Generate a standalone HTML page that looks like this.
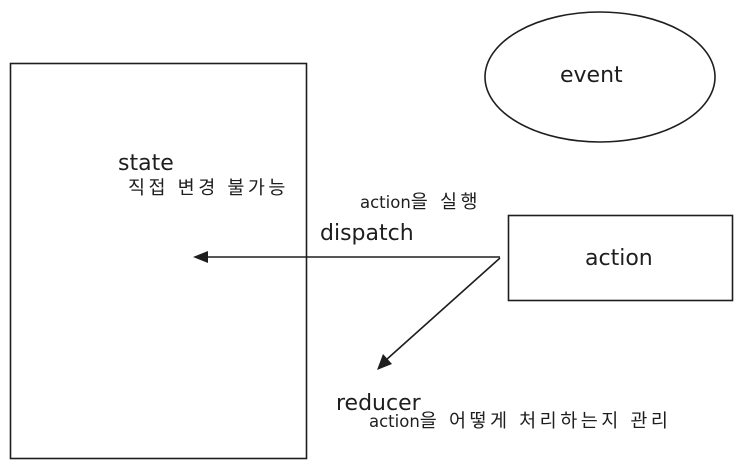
<!DOCTYPE html>
<html><head><meta charset="utf-8"><style>
html,body{margin:0;padding:0;background:#fff;}
svg{display:block}
text{font-family:"Liberation Sans","Noto Sans CJK KR",sans-serif;fill:#1e1e1e}
.h{font-family:"Comic Sans MS","DejaVu Sans","Noto Sans CJK KR",sans-serif}
.k{font-size:18.5px;letter-spacing:3.5px}
</style></head><body>
<svg width="741" height="468" viewBox="0 0 741 468" xmlns="http://www.w3.org/2000/svg">
<g fill="none" stroke="#1e1e1e" stroke-width="1.6">
<rect x="10.5" y="63.5" width="296" height="395"/>
<ellipse cx="600" cy="77" rx="115" ry="65"/>
<rect x="508.5" y="215.5" width="224" height="85"/>
<line x1="500" y1="257" x2="205" y2="257"/>
<line x1="500" y1="258" x2="386" y2="360"/>
</g>
<polygon points="193,257 208,251 208,263" fill="#1e1e1e"/>
<polygon points="377,370 383,354 392,364" fill="#1e1e1e"/>
<text class="h" x="118" y="170" font-size="22">state</text>
<text class="k" x="128" y="194">직접 변경 불가능</text>
<text class="h" x="560" y="82" font-size="22">event</text>
<text class="h" x="585" y="265" font-size="22">action</text>
<text class="h" x="320" y="240" font-size="22">dispatch</text>
<text class="k" x="360" y="208"><tspan class="h" font-size="16.5" letter-spacing="0">action</tspan>을 실행</text>
<text class="h" x="336" y="410" font-size="22">reducer</text>
<text class="k" x="369" y="427"><tspan class="h" font-size="16.5" letter-spacing="0">action</tspan>을 어떻게 처리하는지 관리</text>
</svg>
</body></html>
